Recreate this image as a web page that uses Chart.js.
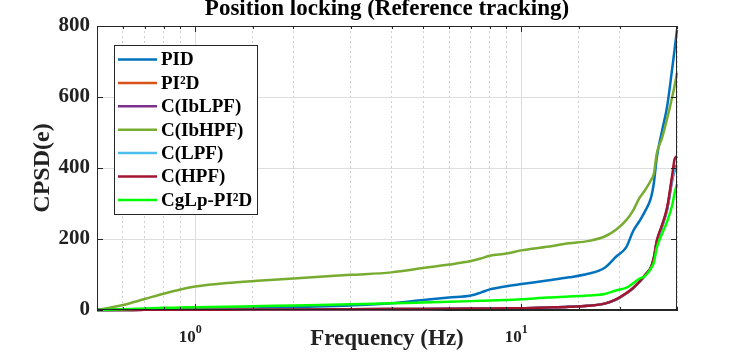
<!DOCTYPE html>
<html>
<head>
<meta charset="utf-8">
<script src="https://cdn.jsdelivr.net/npm/chart.js@4.4.0/dist/chart.umd.min.js"></script>
<style>
  html, body { margin: 0; padding: 0; background: #fff; }
</style>
</head>
<body>
<canvas id="myChart" width="747" height="357"></canvas>
<script>
// values
const freqs = [0.5, 0.6, 0.7, 0.8, 0.9, 1, 1.25, 1.6, 2, 3, 4, 5, 6, 7, 7.5, 8, 9, 10, 12, 14, 16, 18, 19.5, 21, 22, 23, 24, 25, 25.5, 26, 27, 28, 29, 29.5, 30];

const pid   = [0, 0.5, 1, 1.5, 2, 3, 4, 5, 8, 13, 19, 28, 35, 41, 49, 58, 67, 73, 83, 92, 102, 119, 150, 178, 222, 250, 280, 318, 360, 428, 505, 575, 680, 735, 790];
const pi2d  = [0, 0, 0.5, 0.5, 1, 1, 1, 1.5, 1.5, 2, 2.5, 3, 3.5, 4, 4, 4.5, 5, 5, 7, 9, 12, 18, 29, 47, 61, 79, 99, 121, 148, 192, 237, 287, 372, 402, 408];
const iblpf = [0, 0, 0.5, 0.5, 1, 1, 1, 1.5, 1.5, 2, 2.5, 3, 3.5, 4, 4, 4.5, 5, 5, 7, 9, 12, 18, 29, 47, 61, 79, 98, 120, 147, 190, 235, 284, 365, 392, 397];
const ibhpf = [0, 14, 31, 46, 58, 66, 76, 83, 89, 99, 106, 118, 128, 138, 145, 153, 159, 168, 178, 188, 194, 207, 226, 254, 280, 315, 339, 367, 385, 440, 485, 540, 600, 632, 668];
const lpf   = [0, 0, 0.5, 0.5, 1, 1, 1, 1.5, 1.5, 2, 2.5, 3, 3.5, 4, 4, 4.5, 5, 5, 7, 9, 12, 18, 29, 47, 61, 79, 98, 121, 148, 191, 236, 286, 368, 396, 401];
const hpf   = [0, 0, 0.5, 0.5, 1, 1, 1, 1.5, 1.5, 2, 2.5, 3, 3.5, 4, 4, 4.5, 5, 5, 7, 9, 12, 18, 30, 48, 62, 80, 100, 122, 150, 195, 240, 290, 380, 425, 433];
const cglp  = [0, 2, 4, 6, 7, 8, 9, 11, 13, 16, 19, 21, 23, 25, 26, 27, 28, 30, 35, 38, 41, 45, 55, 63, 75, 88, 97, 118, 135, 175, 215, 250, 295, 330, 355];

const names  = ['PID', 'PI²D', 'C(IbLPF)', 'C(IbHPF)', 'C(LPF)', 'C(HPF)', 'CgLp-PI²D'];
const series = [pid, pi2d, iblpf, ibhpf, lpf, hpf, cglp];
const colors = ['#0072BD', '#D95319', '#7E2F8E', '#77AC30', '#4DBEEE', '#A2142F', '#00FF00'];

const yTicks = [0, 200, 400, 600, 800];
const xLabelValues = [1, 10];
const xLabelBase = ['10', '10'];
const xLabelExp = ['0', '1'];

const serif = "'Liberation Serif', 'Times New Roman', serif";
const axisColor = '#262626';

function isMajor(v) {
  return Math.abs(Math.log10(v) - Math.round(Math.log10(v))) < 1e-9;
}

const datasets = series.map((vals, i) => ({
  label: names[i],
  data: freqs.map((f, k) => ({ x: f, y: vals[k] })),
  borderColor: colors[i],
  backgroundColor: colors[i],
  borderWidth: 2.5,
  pointRadius: 0,
  tension: 0.4,
  cubicInterpolationMode: 'monotone',
  clip: false,
  order: series.length - i // later series drawn on top, like matlab
}));

// box, inner tick marks, x tick labels with exponents, legend inside the axes
const framePlugin = {
  id: 'frame',
  afterDraw(chart) {
    const ctx = chart.ctx;
    const a = chart.chartArea;
    const xs = chart.scales.x;
    const ys = chart.scales.y;
    ctx.save();

    // box
    ctx.strokeStyle = axisColor;
    ctx.lineWidth = 1;
    ctx.strokeRect(a.left + 0.5, a.top + 0.5, a.right - a.left - 1, a.bottom - a.top - 1);

    // ticks pointing inwards
    ctx.beginPath();
    xs.ticks.forEach(t => {
      const px = Math.round(xs.getPixelForValue(t.value)) + 0.5;
      const len = isMajor(t.value) ? 6 : 3;
      ctx.moveTo(px, a.bottom);
      ctx.lineTo(px, a.bottom - len);
      ctx.moveTo(px, a.top);
      ctx.lineTo(px, a.top + len);
    });
    yTicks.forEach(v => {
      const py = Math.round(ys.getPixelForValue(v)) + 0.5;
      ctx.moveTo(a.left, py);
      ctx.lineTo(a.left + 6, py);
      ctx.moveTo(a.right, py);
      ctx.lineTo(a.right - 6, py);
    });
    ctx.stroke();

    // x tick labels 10^n
    ctx.fillStyle = '#222';
    xLabelValues.forEach((v, i) => {
      const px = xs.getPixelForValue(v);
      ctx.font = 'bold 17px ' + serif;
      ctx.textAlign = 'right';
      ctx.textBaseline = 'alphabetic';
      ctx.fillText(xLabelBase[i], px + 0.5, 342);
      ctx.font = 'bold 12px ' + serif;
      ctx.textAlign = 'left';
      ctx.fillText(xLabelExp[i], px + 0.5, 333);
    });

    // legend
    const lx = a.left + 17, ly = a.top + 19, lw = 143, lh = 169;
    ctx.fillStyle = '#fff';
    ctx.fillRect(lx, ly, lw, lh);
    ctx.strokeStyle = axisColor;
    ctx.lineWidth = 1;
    ctx.strokeRect(lx + 0.5, ly + 0.5, lw, lh);
    ctx.font = 'bold 19px ' + serif;
    ctx.textAlign = 'left';
    ctx.textBaseline = 'middle';
    chart.data.datasets.forEach((ds, i) => {
      const cy = ly + 14.5 + i * 23.4;
      ctx.strokeStyle = ds.borderColor;
      ctx.lineWidth = 2.5;
      ctx.beginPath();
      ctx.moveTo(lx + 4, cy);
      ctx.lineTo(lx + 43, cy);
      ctx.stroke();
      ctx.fillStyle = '#000';
      ctx.fillText(ds.label, lx + 47, cy + 1);
    });

    ctx.restore();
  }
};

const myChart = new Chart(document.getElementById('myChart'), {
  type: 'line',
  data: { datasets: datasets },
  plugins: [framePlugin],
  options: {
    responsive: false,
    animation: false,
    layout: { padding: { top: 0, left: 0, right: 70, bottom: 0 } },
    plugins: {
      legend: { display: false },
      tooltip: { enabled: false },
      title: {
        display: true,
        fullSize: false,
        text: 'Position locking (Reference tracking)',
        color: '#000',
        font: { family: serif, size: 23, weight: 'bold', lineHeight: '19px' },
        padding: { top: 0, bottom: 7 }
      }
    },
    scales: {
      x: {
        type: 'logarithmic',
        position: 'bottom',
        min: 0.5,
        max: 30,
        afterFit: s => { s.height = 47; },
        ticks: { display: false, autoSkip: false },
        grid: {
          drawTicks: false,
          color: c => (c.tick && isMajor(c.tick.value)) ? '#dcdcdc' : 'rgba(0,0,0,0)'
        },
        border: { color: axisColor },
        title: {
          display: true,
          text: 'Frequency (Hz)',
          color: '#222',
          font: { family: serif, size: 23, weight: 'bold' },
          padding: { top: 0, bottom: 4 }
        }
      },
      x2: {
        type: 'logarithmic',
        position: 'bottom',
        min: 0.5,
        max: 30,
        afterFit: s => { s.height = 0; },
        ticks: { display: false, autoSkip: false },
        grid: {
          drawTicks: false,
          color: c => (c.tick && !isMajor(c.tick.value)) ? '#cfcfcf' : 'rgba(0,0,0,0)'
        },
        border: { display: false, dash: [2, 3] }
      },
      y: {
        min: 0,
        max: 800,
        afterFit: s => { s.width = 97; },
        afterBuildTicks: s => { s.ticks = yTicks.map(v => ({ value: v })); },
        ticks: {
          padding: 7,
          color: '#222',
          font: { family: serif, size: 21, weight: 'bold' }
        },
        grid: { drawTicks: false, color: '#dedede' },
        border: { color: axisColor },
        title: {
          display: true,
          text: 'CPSD(e)',
          color: '#222',
          font: { family: serif, size: 24, weight: 'bold' },
          padding: { top: 28, bottom: 0 }
        }
      }
    }
  }
});
</script>
</body>
</html>
